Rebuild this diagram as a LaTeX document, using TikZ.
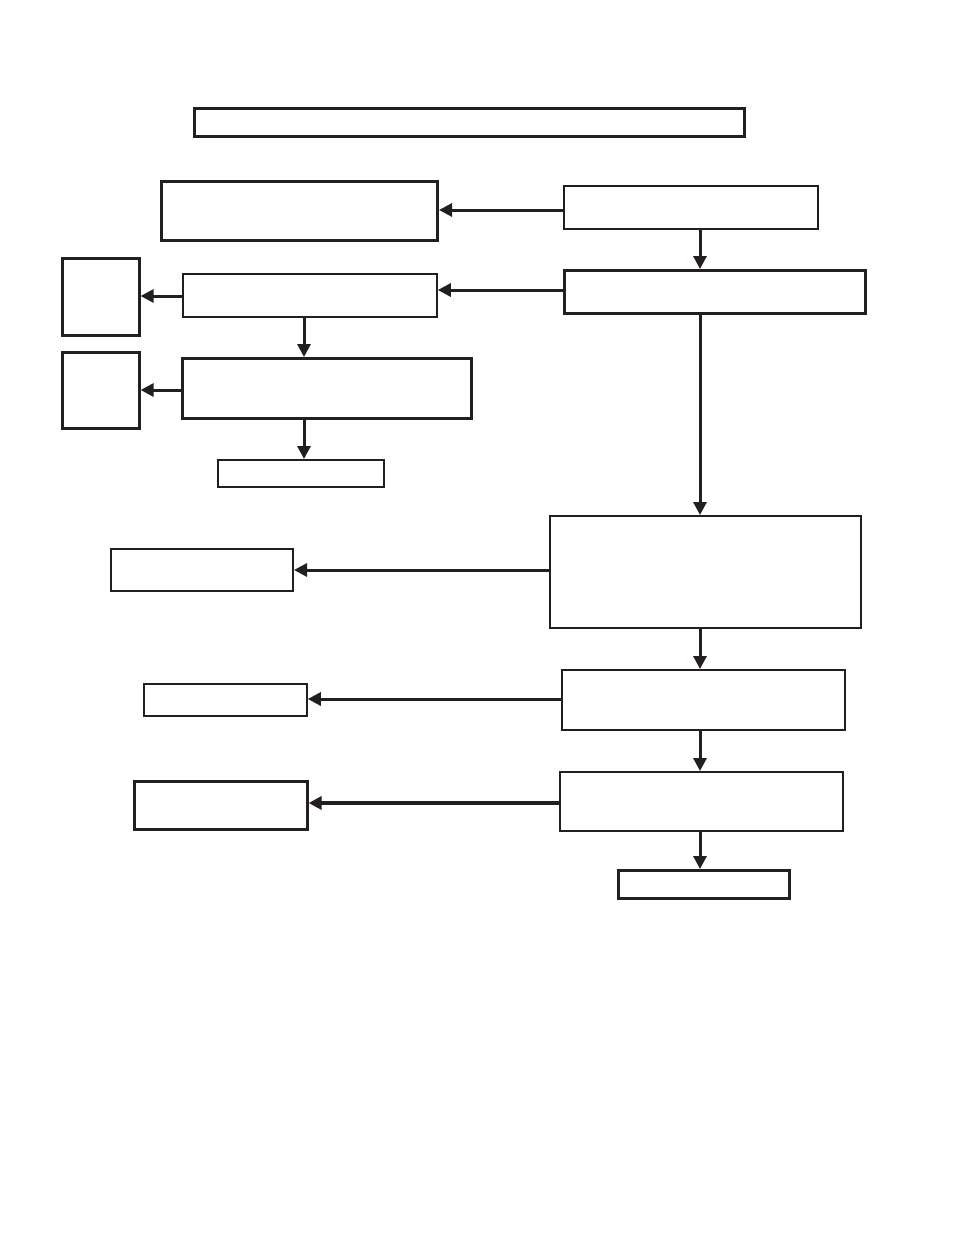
\documentclass[tikz,border=0pt]{standalone}
\usetikzlibrary{arrows.meta}
\definecolor{ink}{HTML}{231F20}
\tikzset{
  box/.style={draw=ink, rectangle, inner sep=0pt, anchor=north west, line width=1.8pt},
  thickbox/.style={box, line width=2.6pt},
  arr/.style={draw=ink, line width=3pt, -{Triangle[length=13pt,width=13pt]}},
  thickarr/.style={arr, line width=3.8pt},
}
\begin{document}
\begin{tikzpicture}[x=1pt,y=1pt]
\useasboundingbox (0,0) rectangle (954,-1235);
\node[thickbox, minimum width=550pt, minimum height=28pt] (T) at (193,-107) {};
\node[thickbox, line width=3pt, minimum width=276pt, minimum height=59pt] (A) at (160,-180) {};
\node[box, minimum width=254pt, minimum height=43pt] (B) at (563,-185) {};
\node[thickbox, minimum width=301pt, minimum height=43pt] (C) at (563,-269) {};
\node[box, minimum width=254pt, minimum height=43pt] (D) at (182,-273) {};
\node[thickbox, minimum width=77pt, minimum height=77pt] (E) at (61,-257) {};
\node[thickbox, minimum width=289pt, minimum height=60pt] (F) at (181,-357) {};
\node[thickbox, minimum width=77pt, minimum height=76pt] (G) at (61,-351) {};
\node[box, minimum width=166pt, minimum height=27pt] (H) at (217,-459) {};
\node[box, minimum width=311pt, minimum height=112pt] (I) at (549,-515) {};
\node[box, line width=2pt, minimum width=182pt, minimum height=42pt] (J) at (110,-548) {};
\node[box, minimum width=283pt, minimum height=60pt] (K) at (561,-669) {};
\node[box, minimum width=163pt, minimum height=32pt] (L) at (143,-683) {};
\node[box, line width=2pt, minimum width=283pt, minimum height=59pt] (M) at (559,-771) {};
\node[thickbox, minimum width=173pt, minimum height=48pt] (N) at (133,-780) {};
\node[thickbox, minimum width=171pt, minimum height=28pt] (O) at (617,-869) {};
\coordinate (xl) at (304,0);
\coordinate (xr) at (700,0);
\coordinate (yab) at (0,-210);
\coordinate (ycd) at (0,-290);
\coordinate (yde) at (0,-296);
\coordinate (yfg) at (0,-390);
\coordinate (yij) at (0,-570);
\coordinate (ykl) at (0,-699);
\coordinate (ymn) at (0,-803);
\draw[arr] (B.west |- yab) -- (A.east |- yab);
\draw[arr] (B.south -| xr) -- (C.north -| xr);
\draw[arr] (C.west |- ycd) -- (D.east |- ycd);
\draw[arr] (D.west |- yde) -- (E.east |- yde);
\draw[arr] (D.south -| xl) -- (F.north -| xl);
\draw[arr] (F.west |- yfg) -- (G.east |- yfg);
\draw[arr] (F.south -| xl) -- (H.north -| xl);
\draw[arr] (C.south -| xr) -- (I.north -| xr);
\draw[arr] (I.west |- yij) -- (J.east |- yij);
\draw[arr] (I.south -| xr) -- (K.north -| xr);
\draw[arr] (K.west |- ykl) -- (L.east |- ykl);
\draw[arr] (K.south -| xr) -- (M.north -| xr);
\draw[thickarr] (M.west |- ymn) -- (N.east |- ymn);
\draw[arr] (M.south -| xr) -- (O.north -| xr);
\end{tikzpicture}
\end{document}
